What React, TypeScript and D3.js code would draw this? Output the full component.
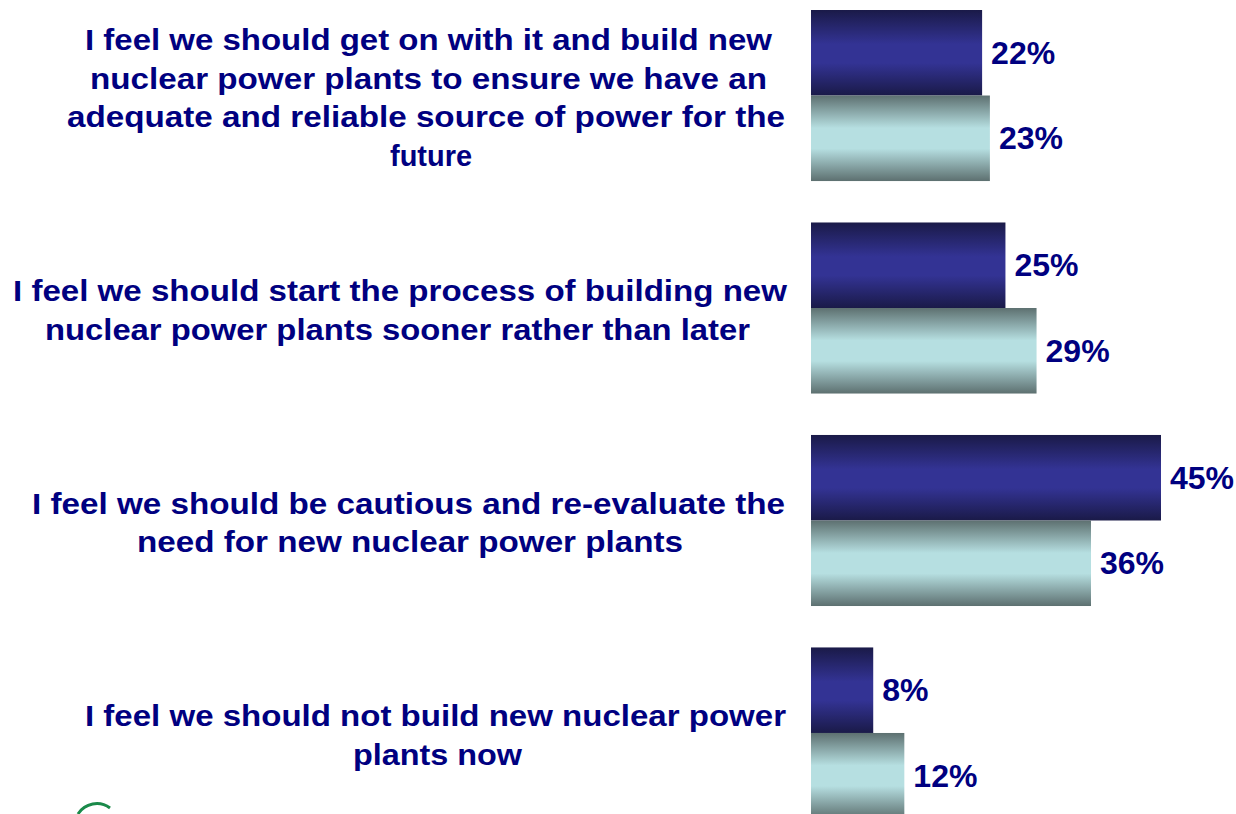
import React from 'react';
import * as d3 from 'd3';

// Survey statements (one per group), split into the lines shown on the slide
const statements = [
  [
    'I feel we should get on with it and build new',
    'nuclear power plants to ensure we have an',
    'adequate and reliable source of power for the',
    'future',
  ],
  [
    'I feel we should start the process of building new',
    'nuclear power plants sooner rather than later',
  ],
  [
    'I feel we should be cautious and re-evaluate the',
    'need for new nuclear power plants',
  ],
  [
    'I feel we should not build new nuclear power',
    'plants now',
  ],
];

const groupIds = ['build', 'start', 'cautious', 'not'];
const seriesIds = ['dark', 'light'];

// Percentages
const darkValues = [22, 25, 45, 8];
const lightValues = [23, 29, 36, 12];

// Horizontal extent [left, right] of every label line, in px
const lineSpans = [
  [[85, 772], [90, 767], [67, 785], [390, 472]],
  [[13, 787], [45, 750]],
  [[32, 785], [137, 683]],
  [[85, 786], [353, 522]],
];

const W = 1236;
const H = 814;
const NAVY = '#000080';
const FONT = 'Arial, "Liberation Sans", sans-serif';

const App = () => {
  const x = d3.scaleLinear().domain([0, 45]).range([811, 1161]);

  const y = d3.scaleBand<string>()
    .domain(groupIds)
    .range([10, 818.5])
    .paddingInner(0.195)
    .paddingOuter(0);

  const ySub = d3.scaleBand<string>()
    .domain(seriesIds)
    .range([0, y.bandwidth()])
    .padding(0);

  const series = [darkValues, lightValues];
  const lineGap = 38.5;

  return (
    <svg
      width={W}
      height={H}
      style={{ position: 'absolute', left: 0, top: 0, background: '#fff' }}
    >
      <defs>
        <linearGradient id='grad-dark' x1='0' y1='0' x2='0' y2='1'>
          <stop offset='0%' stopColor='#1a1a48' />
          <stop offset='40%' stopColor='#333394' />
          <stop offset='62%' stopColor='#333394' />
          <stop offset='100%' stopColor='#1a1a48' />
        </linearGradient>
        <linearGradient id='grad-light' x1='0' y1='0' x2='0' y2='1'>
          <stop offset='0%' stopColor='#5d7070' />
          <stop offset='38%' stopColor='#b6dfe1' />
          <stop offset='62%' stopColor='#b6dfe1' />
          <stop offset='100%' stopColor='#5d7070' />
        </linearGradient>
      </defs>

      {groupIds.map((g, gi) => {
        const top = y(g) as number;
        const lines = statements[gi];
        const center = top + y.bandwidth() / 2;
        return (
          <g key={g}>
            {lines.map((line, li) => {
              const [x0, x1] = lineSpans[gi][li];
              const baseline = center + (li - (lines.length - 1) / 2) * lineGap + 12.5;
              return (
                <text
                  key={li}
                  x={x0}
                  y={baseline}
                  textLength={x1 - x0}
                  lengthAdjust='spacingAndGlyphs'
                  fill={NAVY}
                  fontFamily={FONT}
                  fontWeight='bold'
                  fontSize={30}
                >
                  {line}
                </text>
              );
            })}

            {seriesIds.map((s, si) => {
              const v = series[si][gi];
              const by = top + (ySub(s) as number);
              const bh = ySub.bandwidth();
              return (
                <g key={s}>
                  <rect
                    x={x(0)}
                    y={by}
                    width={x(v) - x(0)}
                    height={bh}
                    fill={`url(#grad-${s})`}
                  />
                  <text
                    x={x(v) + 9}
                    y={by + bh / 2 + 11}
                    fill={NAVY}
                    fontFamily={FONT}
                    fontWeight='bold'
                    fontSize={32}
                  >
                    {v}%
                  </text>
                </g>
              );
            })}
          </g>
        );
      })}

      {/* corner of the logo, cut off at the bottom edge */}
      <path
        d='M 78 814 A 22 22 0 0 1 110 808'
        fill='none'
        stroke='#1a8a4a'
        strokeWidth={3}
      />
    </svg>
  );
};

export default App;
